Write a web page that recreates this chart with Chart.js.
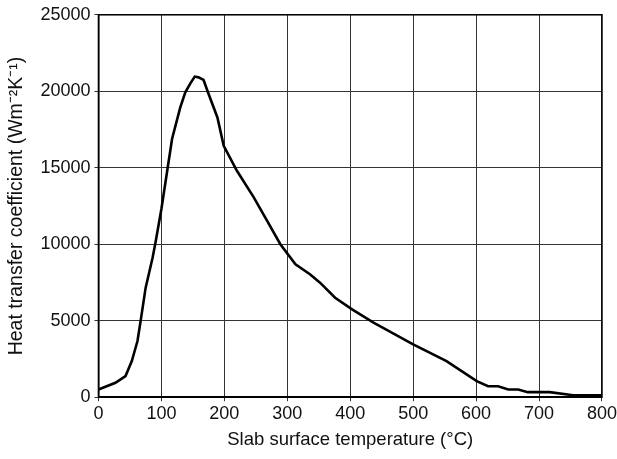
<!DOCTYPE html>
<html>
<head>
<meta charset="utf-8">
<script src="https://cdn.jsdelivr.net/npm/chart.js@4.4.1/dist/chart.umd.min.js"></script>
<style>
  html, body { margin: 0; padding: 0; background: #fff; }
  #wrap { width: 617px; height: 459px; }
</style>
</head>
<body>
<div id="wrap"><canvas id="htcChart" width="617" height="459"></canvas></div>
<script>
// slab surface temperature (°C)
const temperature = [0, 27, 43, 53, 62, 67, 75, 86, 91, 100, 117, 130, 138, 146, 153, 159, 167, 175, 189, 199,
  220, 247, 268, 289, 313, 336, 352, 376, 403, 437, 500, 553, 601, 619, 635, 651, 667, 682, 717, 754, 800];
// heat transfer coefficient (W m-2 K-1)
const htc = [500, 940, 1380, 2360, 3670, 4980, 7160, 9120, 10200, 12300, 16900, 18950, 19930, 20520, 20960, 20910, 20740, 19820, 18290, 16440,
  14800, 13050, 11530, 10000, 8690, 8040, 7490, 6500, 5740, 4870, 3450, 2360, 1050, 720, 720, 500, 500, 330, 330, 130, 130];
const xTicks = [0, 100, 200, 300, 400, 500, 600, 700, 800];
const yTicks = [0, 5000, 10000, 15000, 20000, 25000];

const font = "'Liberation Sans', Arial, sans-serif";

// box round the plot area
const frame = {
  id: "frame",
  afterDraw(chart) {
    const { ctx, chartArea: a } = chart;
    ctx.save();
    ctx.strokeStyle = "#000";
    ctx.lineWidth = 1.5;
    ctx.strokeRect(a.left, a.top, a.right - a.left, a.bottom - a.top);
    ctx.restore();
  }
};

new Chart(document.getElementById("htcChart"), {
  type: "scatter",
  data: {
    datasets: [{
      data: temperature.map((t, i) => ({ x: t, y: htc[i] })),
      showLine: true,
      borderColor: "#000",
      borderWidth: 2.6,
      pointRadius: 0,
      tension: 0
    }]
  },
  options: {
    responsive: false,
    animation: false,
    layout: { padding: { left: 5, top: 5, right: 0, bottom: 8 } },
    plugins: { legend: { display: false }, tooltip: { enabled: false } },
    scales: {
      x: {
        type: "linear",
        min: 0, max: 800,
        afterBuildTicks: s => { s.ticks = xTicks.map(v => ({ value: v })); },
        afterFit: s => { s.paddingRight = Math.max(0, s.paddingRight - 2); },
        grid: { color: "#333", lineWidth: 1, tickLength: 4 },
        border: { color: "#000", width: 1.5 },
        ticks: { color: "#111", font: { family: font, size: 18 }, padding: 2, maxRotation: 0 },
        title: { display: true, text: "Slab surface temperature (\u00B0C)", color: "#111", font: { family: font, size: 18.5 }, padding: { top: 2, bottom: 0 } }
      },
      y: {
        type: "linear",
        min: 0, max: 25000,
        afterBuildTicks: s => { s.ticks = yTicks.map(v => ({ value: v })); },
        grid: { color: "#333", lineWidth: 1, tickLength: 4 },
        border: { color: "#000", width: 1.5 },
        ticks: { color: "#111", font: { family: font, size: 18 }, padding: 4, callback: v => String(v) },
        title: { display: true, text: "Heat transfer coefficient (Wm\u207B\u00B2K\u207B\u00B9)", color: "#111", font: { family: font, size: 19.5 }, padding: { top: 0, bottom: 8 } }
      }
    }
  },
  plugins: [frame]
});
</script>
</body>
</html>
